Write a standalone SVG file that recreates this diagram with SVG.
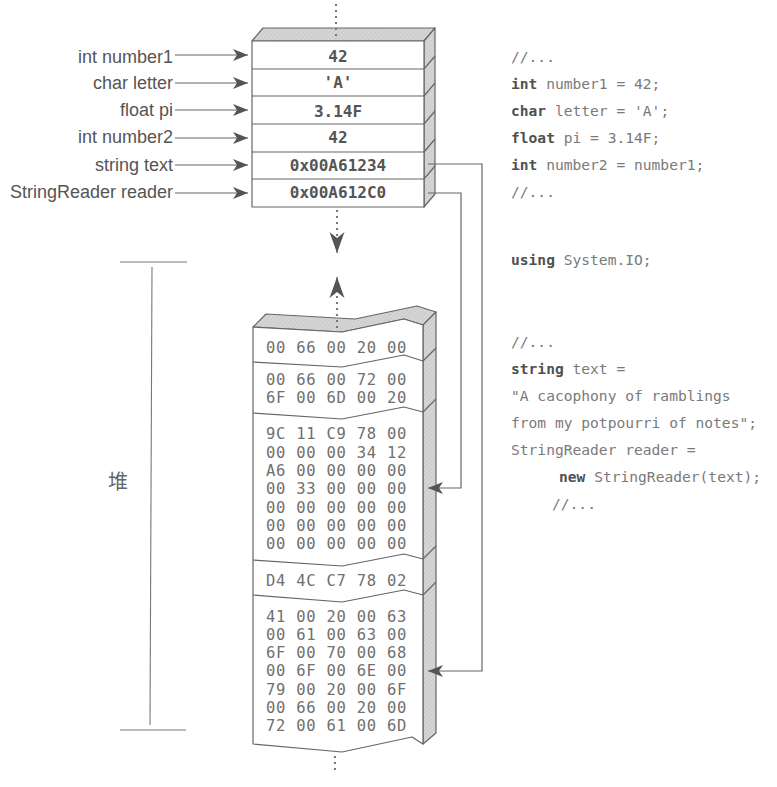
<svg xmlns="http://www.w3.org/2000/svg" width="777" height="787" viewBox="0 0 777 787">
  <style>
    .label { font-family: "Liberation Sans", Arial, sans-serif; font-size: 18px; fill: #555; text-anchor: end; }
    .cell { font-family: "DejaVu Sans Mono", monospace; font-size: 16px; font-weight: bold; fill: #555; text-anchor: middle; }
    .hex { font-family: "DejaVu Sans Mono", monospace; font-size: 15.5px; letter-spacing: 0.75px; fill: #707070; }
    .code { font-family: "DejaVu Sans Mono", monospace; font-size: 14.6px; fill: #7a7a7a; }
    .kw { font-weight: bold; fill: #505050; }
    .face { fill: #ffffff; stroke: #666; stroke-width: 1.2; stroke-linejoin: round; }
    .shade { fill: url(#hatch); stroke: #666; stroke-width: 1.2; stroke-linejoin: round; }
    .edge { fill: none; stroke: #666; stroke-width: 1.2; stroke-linejoin: round; }
    .wire { fill: none; stroke: #666; stroke-width: 1.2; }
    .dots { fill: none; stroke: #777; stroke-width: 2; stroke-dasharray: 2 4; }
    .bracket { fill: none; stroke: #777; stroke-width: 1.1; }
    .cjk { font-family: "Liberation Serif", "Noto Sans CJK SC", serif; font-size: 20px; fill: #666; text-anchor: middle; }
  </style>
  <defs>
    <pattern id="hatch" width="3" height="3" patternUnits="userSpaceOnUse" patternTransform="rotate(45)">
      <rect width="3" height="3" fill="#d6d6d6"/>
      <line x1="0" y1="0" x2="0" y2="3" stroke="#bcbcbc" stroke-width="1"/>
    </pattern>
    <marker id="tip" markerUnits="userSpaceOnUse" markerWidth="17" markerHeight="14" viewBox="-16 -7 17 14" refX="0" refY="0" orient="auto">
      <path d="M0,0 L-15,-6 L-11,0 L-15,6 Z" fill="#555"/>
    </marker>
    <marker id="bigtip" markerUnits="userSpaceOnUse" markerWidth="24" markerHeight="18" viewBox="-22 -9 24 18" refX="0" refY="0" orient="auto">
      <path d="M0,0 L-21,-7.5 L-15,0 L-21,7.5 Z" fill="#555"/>
    </marker>
  </defs>

  <rect width="777" height="787" fill="#ffffff"/>

  <!-- stack: six value slots drawn as an oblique block -->
  <g id="stack">
    <polygon class="shade" points="252,41 263,28 435,28 424,41"/>
    <polygon class="shade" points="424,41 435,28 435,194 424,207"/>
    <rect class="face" x="252" y="41" width="172" height="166"/>
    <g class="edge">
      <path d="M252,69 H424 L435,56"/>
      <path d="M252,96 H424 L435,83"/>
      <path d="M252,124 H424 L435,111"/>
      <path d="M252,152 H424 L435,139"/>
      <path d="M252,179 H424 L435,166"/>
    </g>
    <text class="cell" x="338" y="62">42</text>
    <text class="cell" x="338" y="88">'A'</text>
    <text class="cell" x="338" y="117">3.14F</text>
    <text class="cell" x="338" y="143">42</text>
    <text class="cell" x="338" y="171">0x00A61234</text>
    <text class="cell" x="338" y="198">0x00A612C0</text>
  </g>

  <!-- variable names -->
  <g id="names">
    <text class="label" x="173" y="63">int number1</text>
    <text class="label" x="173" y="89">char letter</text>
    <text class="label" x="173" y="116">float pi</text>
    <text class="label" x="173" y="143">int number2</text>
    <text class="label" x="173" y="171">string text</text>
    <text class="label" x="173" y="198">StringReader reader</text>
  </g>

  <!-- heap: memory block with jagged breaks between regions -->
  <g id="heap">
    <polygon class="shade" points="253,327 342,332 404,319 423,325 436,312 417,306 355,319 266,314"/>
    <polygon class="shade" points="423,325 436,312 436,733 423,744"/>
    <polygon class="face" points="253,327 342,332 404,319 423,325 423,744 412,737 342,752 253,744"/>
    <g class="edge">
      <path d="M253,362 L342,367 L404,355 L423,361 L436,348"/>
      <path d="M253,413 L342,419 L404,407 L423,412 L436,399"/>
      <path d="M253,560 L342,566 L404,554 L423,559 L436,546"/>
      <path d="M253,595 L342,602 L404,590 L423,595 L436,582"/>
    </g>
    <text class="hex" x="266" y="353">00 66 00 20 00</text>
    <text class="hex" x="266" y="385">00 66 00 72 00</text>
    <text class="hex" x="266" y="403">6F 00 6D 00 20</text>
    <text class="hex" x="266" y="439">9C 11 C9 78 00</text>
    <text class="hex" x="266" y="457.5">00 00 00 34 12</text>
    <text class="hex" x="266" y="476">A6 00 00 00 00</text>
    <text class="hex" x="266" y="494">00 33 00 00 00</text>
    <text class="hex" x="266" y="512.5">00 00 00 00 00</text>
    <text class="hex" x="266" y="531">00 00 00 00 00</text>
    <text class="hex" x="266" y="549">00 00 00 00 00</text>
    <text class="hex" x="266" y="586">D4 4C C7 78 02</text>
    <text class="hex" x="266" y="622">41 00 20 00 63</text>
    <text class="hex" x="266" y="640">00 61 00 63 00</text>
    <text class="hex" x="266" y="658">6F 00 70 00 68</text>
    <text class="hex" x="266" y="676">00 6F 00 6E 00</text>
    <text class="hex" x="266" y="694.5">79 00 20 00 6F</text>
    <text class="hex" x="266" y="712.5">00 66 00 20 00</text>
    <text class="hex" x="266" y="731">72 00 61 00 6D</text>
  </g>

  <!-- heap extent bracket -->
  <g id="heap-label">
    <path class="bracket" d="M120,262 H187"/>
    <path class="bracket" d="M152,267 L150,725"/>
    <path class="bracket" d="M120,730 H186"/>
    <text class="cjk" x="118" y="489">堆</text>
  </g>

  <!-- source code -->
  <g id="code" class="code">
    <text x="511" y="62">//...</text>
    <text x="511" y="89"><tspan class="kw">int</tspan> number1 = 42;</text>
    <text x="511" y="116"><tspan class="kw">char</tspan> letter = 'A';</text>
    <text x="511" y="143"><tspan class="kw">float</tspan> pi = 3.14F;</text>
    <text x="511" y="170"><tspan class="kw">int</tspan> number2 = number1;</text>
    <text x="511" y="197">//...</text>
    <text x="511" y="265"><tspan class="kw">using</tspan> System.IO;</text>
    <text x="511" y="347">//...</text>
    <text x="511" y="374"><tspan class="kw">string</tspan> text =</text>
    <text x="511" y="401">"A cacophony of ramblings</text>
    <text x="511" y="428">from my potpourri of notes";</text>
    <text x="511" y="455">StringReader reader =</text>
    <text x="559" y="482"><tspan class="kw">new</tspan> StringReader(text);</text>
    <text x="552" y="509">//...</text>
  </g>

  <!-- connectors -->
  <g id="connectors">
    <path class="wire" d="M175,55 H248" marker-end="url(#tip)"/>
    <path class="wire" d="M175,83 H248" marker-end="url(#tip)"/>
    <path class="wire" d="M175,110 H248" marker-end="url(#tip)"/>
    <path class="wire" d="M175,138 H248" marker-end="url(#tip)"/>
    <path class="wire" d="M175,165 H248" marker-end="url(#tip)"/>
    <path class="wire" d="M175,193 H248" marker-end="url(#tip)"/>

    <path class="wire" d="M428,164 H482 V671 H428" marker-end="url(#tip)"/>
    <path class="wire" d="M428,193 H461 V488 H428" marker-end="url(#tip)"/>

    <path class="dots" d="M336,4 V38"/>
    <path class="dots" d="M337,210 V240"/>
    <path class="wire" d="M337,240 V253" stroke="none" marker-end="url(#bigtip)"/>
    <path class="wire" d="M337,290 V277" stroke="none" marker-end="url(#bigtip)"/>
    <path class="dots" d="M337,296 V328"/>
    <path class="dots" d="M335,756 V772"/>
  </g>
</svg>
